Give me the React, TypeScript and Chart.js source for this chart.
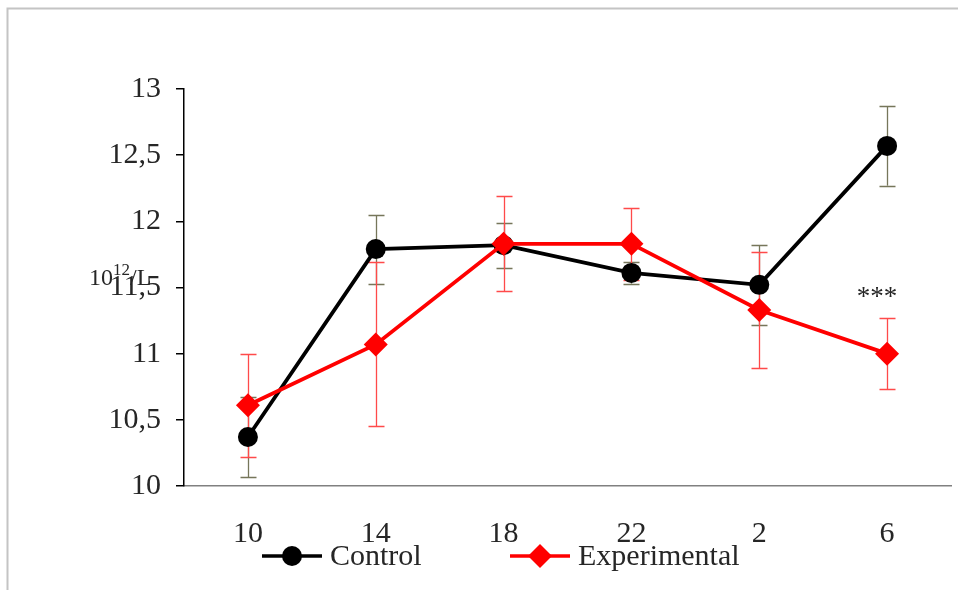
import React, { useEffect, useRef } from 'react';
import { Chart, registerables } from 'chart.js';

Chart.register(...registerables);

// ---- data ----
const categories = ['10', '14', '18', '22', '2', '6'];
const controlValues = [10.37, 11.79, 11.82, 11.61, 11.52, 12.57];
const controlErrors = [0.3, 0.26, 0.17, 0.08, 0.3, 0.3];
const experimentalValues = [10.61, 11.07, 11.83, 11.83, 11.33, 11.0];
const experimentalErrors = [0.39, 0.62, 0.36, 0.27, 0.44, 0.27];
const yTickValues = [10, 10.5, 11, 11.5, 12, 12.5, 13];
const yTickLabels = ['10', '10,5', '11', '11,5', '12', '12,5', '13'];
const seriesNames = ['Control', 'Experimental'];
const yTitleBase = '10';
const yTitleSup = '12';
const yTitleUnit = '/L';
const annotationIndex = 5;
const annotationValue = 11.42;
const annotationText = '***';

const FONT = "'Liberation Serif', 'Times New Roman', serif";
const TEXT = '#262626';

const decorPlugin = {
  id: 'decor',
  beforeDraw(chart: any) {
    const ctx = chart.ctx;
    ctx.save();
    ctx.strokeStyle = '#c4c4c4';
    ctx.lineWidth = 2;
    ctx.strokeRect(7.5, 8.5, 1200, 1200);
    ctx.restore();
  },
  beforeDatasetsDraw(chart: any) {
    const ctx = chart.ctx;
    const x = chart.scales.x;
    const y = chart.scales.y;
    ctx.save();
    chart.data.datasets.forEach((ds: any) => {
      ctx.strokeStyle = ds.errorColor;
      ctx.lineWidth = 1.3;
      ds.data.forEach((v: number, i: number) => {
        const e = ds.errors[i];
        const px = Math.round(x.getPixelForValue(i)) + 0.5;
        const top = y.getPixelForValue(v + e);
        const bot = y.getPixelForValue(v - e);
        ctx.beginPath();
        ctx.moveTo(px, top);
        ctx.lineTo(px, bot);
        ctx.moveTo(px - 8, Math.round(top) + 0.5);
        ctx.lineTo(px + 8, Math.round(top) + 0.5);
        ctx.moveTo(px - 8, Math.round(bot) + 0.5);
        ctx.lineTo(px + 8, Math.round(bot) + 0.5);
        ctx.stroke();
      });
    });
    ctx.restore();
  },
  afterDraw(chart: any) {
    const ctx = chart.ctx;
    const x = chart.scales.x;
    const y = chart.scales.y;
    ctx.save();
    // y title with superscript
    ctx.fillStyle = TEXT;
    ctx.textBaseline = 'alphabetic';
    ctx.textAlign = 'left';
    const ty = y.getPixelForValue(11.5) - 3;
    let tx = 89;
    ctx.font = `24px ${FONT}`;
    ctx.fillText(yTitleBase, tx, ty);
    tx += ctx.measureText(yTitleBase).width;
    ctx.font = `17px ${FONT}`;
    ctx.fillText(yTitleSup, tx, ty - 10);
    tx += ctx.measureText(yTitleSup).width;
    ctx.font = `24px ${FONT}`;
    ctx.fillText(yTitleUnit, tx, ty);

    // annotation
    ctx.font = `27px ${FONT}`;
    ctx.textAlign = 'center';
    ctx.textBaseline = 'middle';
    ctx.fillText(annotationText, x.getPixelForValue(annotationIndex) - 10, y.getPixelForValue(annotationValue));

    // legend
    const ly = 556;
    const starts = [262, 510];
    chart.data.datasets.forEach((ds: any, i: number) => {
      const sx = starts[i];
      ctx.strokeStyle = ds.borderColor;
      ctx.lineWidth = 3.5;
      ctx.beginPath();
      ctx.moveTo(sx, ly);
      ctx.lineTo(sx + 60, ly);
      ctx.stroke();
      ctx.fillStyle = ds.backgroundColor;
      const cx = sx + 30;
      ctx.beginPath();
      if (ds.pointStyle === 'circle') {
        ctx.arc(cx, ly, 10, 0, Math.PI * 2);
      } else {
        const r = 12;
        ctx.moveTo(cx, ly - r);
        ctx.lineTo(cx + r, ly);
        ctx.lineTo(cx, ly + r);
        ctx.lineTo(cx - r, ly);
        ctx.closePath();
      }
      ctx.fill();
      ctx.fillStyle = TEXT;
      ctx.font = `30px ${FONT}`;
      ctx.textAlign = 'left';
      ctx.textBaseline = 'middle';
      ctx.fillText(ds.label, sx + 68, ly + 1);
    });
    ctx.restore();
  },
};

export default function App() {
  const ref = useRef<HTMLCanvasElement | null>(null);
  useEffect(() => {
    if (!ref.current) return;
    const chart = new Chart(ref.current, {
      type: 'line',
      data: {
        labels: categories,
        datasets: [
          {
            label: seriesNames[0],
            data: controlValues,
            errors: controlErrors,
            errorColor: '#76765a',
            borderColor: '#000000',
            backgroundColor: '#000000',
            borderWidth: 3.8,
            pointStyle: 'circle',
            pointRadius: 10,
            pointBorderWidth: 0,
            order: 1,
          } as any,
          {
            label: seriesNames[1],
            data: experimentalValues,
            errors: experimentalErrors,
            errorColor: '#ff4a4a',
            borderColor: '#ff0000',
            backgroundColor: '#ff0000',
            borderWidth: 3.8,
            pointStyle: 'rectRot',
            pointRadius: 12,
            pointBorderWidth: 0,
            order: 0,
          } as any,
        ],
      },
      options: {
        animation: false,
        responsive: false,
        devicePixelRatio: 1,
        layout: { autoPadding: false, padding: { left: 0, top: 89, right: 7, bottom: 0 } },
        plugins: { legend: { display: false }, tooltip: { enabled: false } },
        scales: {
          x: {
            type: 'category',
            offset: true,
            grid: { display: false, drawTicks: false },
            border: { display: true, color: '#808080', width: 1.5 },
            ticks: { color: TEXT, font: { family: FONT, size: 30 }, padding: 30, maxRotation: 0, autoSkip: false },
            afterFit: (s: any) => {
              s.height = 104;
              s.paddingLeft = 0;
              s.paddingRight = 0;
            },
          },
          y: {
            type: 'linear',
            min: 10,
            max: 13,
            grid: { display: true, drawOnChartArea: false, drawTicks: true, tickLength: 8, color: '#000000', lineWidth: 1.5 },
            border: { display: true, color: '#000000', width: 1.5 },
            afterBuildTicks: (s: any) => {
              s.ticks = yTickValues.map((v) => ({ value: v }));
            },
            ticks: {
              color: TEXT,
              font: { family: FONT, size: 30 },
              padding: 15,
              callback: (v: any) => {
                const i = yTickValues.indexOf(Number(v));
                return i >= 0 ? yTickLabels[i] : '';
              },
            },
            afterFit: (s: any) => {
              s.width = 184;
              s.paddingTop = 0;
              s.paddingBottom = 0;
            },
          },
        },
      },
      plugins: [decorPlugin],
    });
    return () => chart.destroy();
  }, []);
  return (
    <div style={{ position: 'absolute', left: 0, top: 0, width: 958, height: 590, background: '#fff' }}>
      <canvas ref={ref} width={958} height={590} style={{ width: 958, height: 590, display: 'block' }} />
    </div>
  );
}
